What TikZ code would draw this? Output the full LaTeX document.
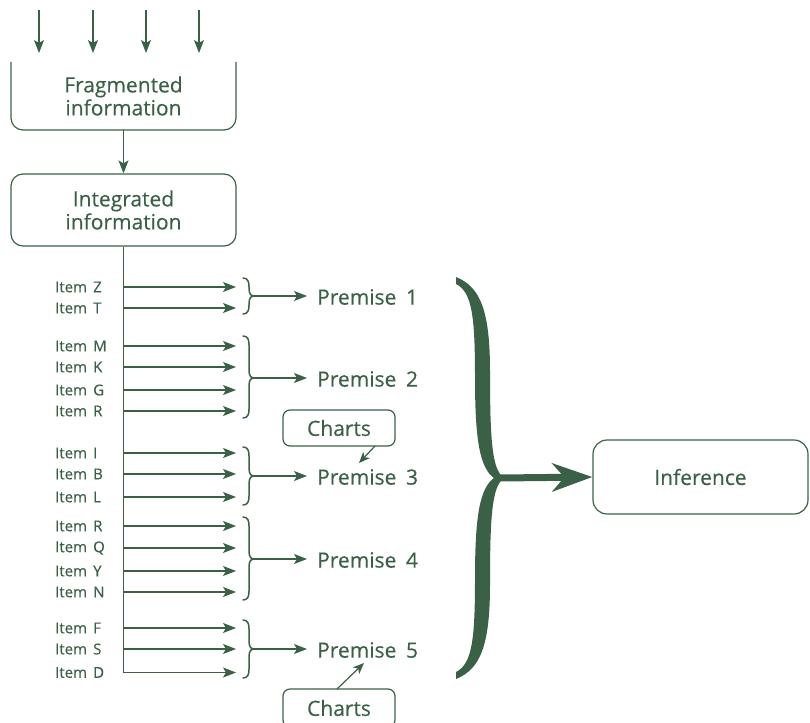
\documentclass[tikz,border=0pt]{standalone}
\usepackage{fontspec}
\setmainfont{Open Sans}[FakeBold=0.3]
\usetikzlibrary{arrows.meta,calc}
\definecolor{dg}{RGB}{58,97,70}
\begin{document}
\begin{tikzpicture}[x=1pt,y=-1pt,
  ln/.style={draw=dg,line width=1.2pt},
  arr/.style={ln,-{Stealth[length=13pt,width=10pt,inset=3pt]}},
  sarr/.style={ln,-{Stealth[length=11pt,width=9pt,inset=3pt]}},
  bigtxt/.style={text=dg,font=\fontsize{21}{23}\selectfont,align=center,inner sep=0pt},
  itemtxt/.style={text=dg,font=\fontsize{15}{16}\selectfont,anchor=west,inner sep=0pt},
  rbox/.style={draw=dg,line width=1.2pt,rounded corners=12pt,bigtxt,inner sep=0pt},
  sbrace/.style={ln,line width=1.5pt,line cap=round},
  bigbrace/.style={fill=dg,draw=none},
  bigarr/.style={draw=dg,line width=7pt,-{Stealth[length=40pt,width=28pt,inset=12pt]}}
]
\useasboundingbox (0,0) rectangle (810,722);

% top incoming arrows
\foreach \x [count=\i] in {39,93,146,199}{
  \coordinate (s\i) at (\x,10);
  \coordinate (e\i) at (\x,53);
  \draw[arr] (s\i) -- (e\i);
}

% fragmented information (open top)
\draw[ln,rounded corners=12pt] (11,62) -- (11,130) -- (236,130) -- (236,62);
\node[bigtxt] (frag) at (123.5,96) {Fragmented\\information};
\coordinate (fragb) at (123.5,130);

% integrated information
\node[rbox,minimum width=225pt,minimum height=72pt] (integ) at (123.5,210) {Integrated\\information};
\draw[arr] (fragb) -- (integ.north);

% items
\foreach \nm/\y/\lab in {iZ/287/Z,iT/308/T,iM/346/M,iK/367/K,iG/390/G,iR/411/R,
  iI/453/I,iB/474/B,iL/497/L,iR2/526/R,iQ/548/Q,iY/571/Y,iN/592/N,iF/628/F,iS/649/S,iD/672.5/D}{
  \node[itemtxt] (\nm) at (55,\y) {Item\hspace{0.15em} \lab};
  \coordinate (\nm a) at (123.5,\y);
  \coordinate (\nm b) at (236,\y);
}
\draw[arr] (integ.south) |- (iDb);
\foreach \nm in {iZ,iT,iM,iK,iG,iR,iI,iB,iL,iR2,iQ,iY,iN,iF,iS}{
  \draw[arr] (\nm a) -- (\nm b);
}

% small braces and premises
\foreach \k/\ya/\yb/\ym in {1/278/314/296,2/336/418/378,3/447/505/476,4/517/600/559,5/620/678/649}{
  \draw[sbrace] (243,\ya) .. controls (248,\ya) and (249,\ya+4) .. (249,\ya+9)
    -- (249,\ym-8) .. controls (249,\ym-2) and (251,\ym) .. (254,\ym)
    .. controls (251,\ym) and (249,\ym+2) .. (249,\ym+8)
    -- (249,\yb-9) .. controls (249,\yb-4) and (248,\yb) .. (243,\yb);
  \coordinate (bt\k) at (254,\ym);
  \coordinate (pa\k) at (307,\ym);
  \node[bigtxt,anchor=west] (p\k) at (317,\ym+1) {Premise\hspace{0.2em} \k};
  \draw[arr] (bt\k) -- (pa\k);
}

% charts
\node[rbox,rounded corners=7pt,minimum width=112pt,minimum height=36pt] (c1) at (339,428) {Charts};
\coordinate (c1a) at (375,446);
\coordinate (c1b) at (359,463);
\draw[sarr] (c1a) -- (c1b);
\node[rbox,rounded corners=7pt,minimum width=112pt,minimum height=38pt] (c2) at (339,708) {Charts};
\coordinate (c2a) at (337,689);
\coordinate (c2b) at (364,663);
\draw[sarr] (c2a) -- (c2b);

% big brace
\fill[bigbrace] (456,277) .. controls (481,287) and (490,312) .. (490,372)
  .. controls (490,440) and (492,470) .. (504,478)
  .. controls (492,486) and (490,516) .. (490,584)
  .. controls (490,644) and (481,669) .. (456,679)
  -- (456,672)
  .. controls (472,664) and (475,640) .. (475,578)
  .. controls (475,515) and (480,488) .. (494,478)
  .. controls (480,468) and (475,441) .. (475,378)
  .. controls (475,316) and (472,292) .. (456,284) -- cycle;
\coordinate (bigtip) at (500,478);

% inference
\node[rbox,rounded corners=14pt,minimum width=215pt,minimum height=74pt] (inf) at (700.5,477) {Inference};
\draw[bigarr] (bigtip) -- (inf.west);
\end{tikzpicture}
\end{document}
